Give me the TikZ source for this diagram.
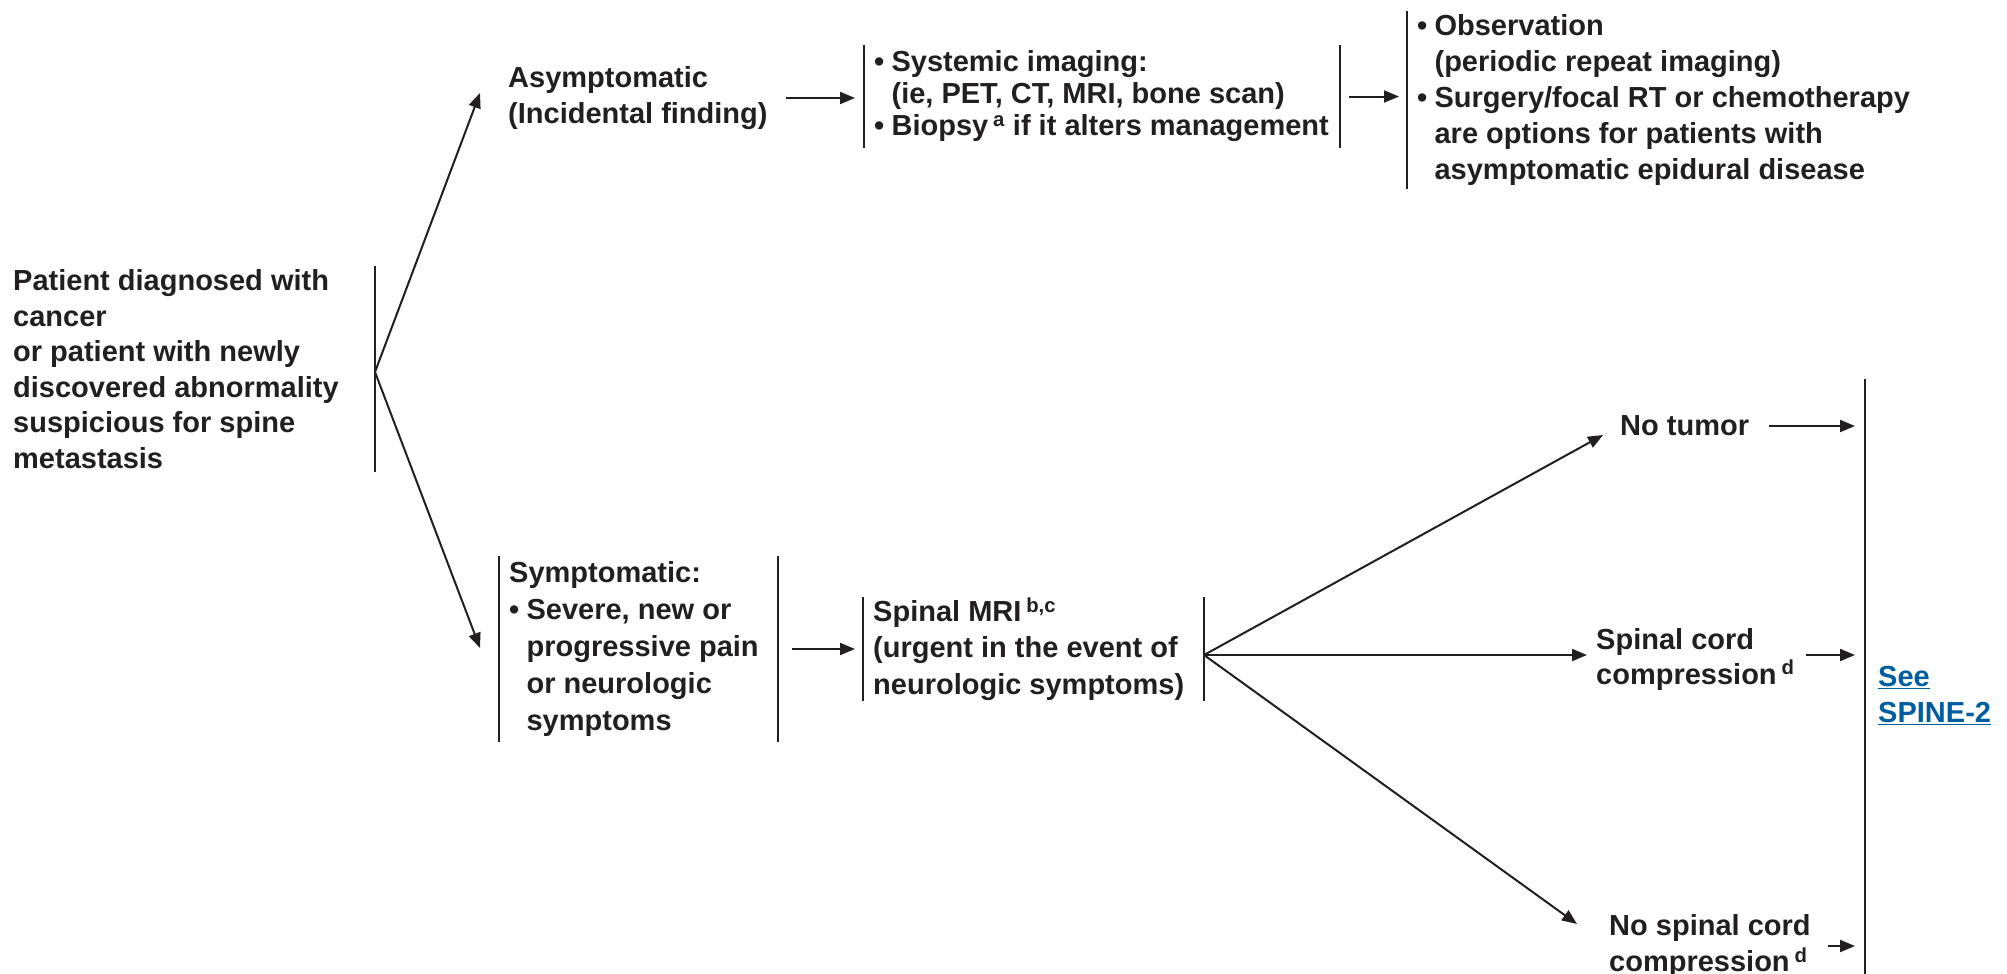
\documentclass[tikz,border=0pt]{standalone}
\usepackage{fontspec}
\setmainfont{Liberation Sans}
\usepackage{tikz}
\usetikzlibrary{arrows.meta}

\definecolor{ink}{HTML}{231F20}
\definecolor{linkblue}{RGB}{0,94,160}
\newcommand{\bul}{\makebox[0.6em][l]{\textbullet}}
\newcommand{\indt}{\hspace*{0.6em}}
\newcommand{\fnote}[1]{\,\textsuperscript{#1}}

\begin{document}
\begin{tikzpicture}[x=1pt,y=-1pt,
    txt/.style={font=\fontsize{29}{#1}\selectfont\bfseries,text=ink,align=left,inner sep=0pt,anchor=west},
    txt/.default=35.5,
    box/.style={txt=#1,inner xsep=10pt},
    box/.default=35.5,
    bar/.style={draw=ink,line width=2.6pt},
    arr/.style={draw=ink,line width=2pt,-{Triangle[length=15pt,width=12pt]}}]

    \useasboundingbox (0,0) rectangle (2007,974);

    \node[txt,minimum height=205pt] (pat) at (13,369) {Patient diagnosed with\\cancer\\or patient with newly\\discovered abnormality\\suspicious for spine\\metastasis};
    \coordinate (pfork) at (375,372);
    \draw[bar] (pat.north -| pfork) -- (pat.south -| pfork);

    \node[txt] (asym) at (508,98) {Asymptomatic\\(Incidental finding)};

    \node[box=32,minimum height=103pt] (sys) at (864,96.5) {\bul Systemic imaging:\\\indt(ie, PET, CT, MRI, bone scan)\\\bul Biopsy\fnote{a} if it alters management};
    \coordinate (sysR) at (1340,96.5);
    \draw[bar] (sys.north west) -- (sys.south west);
    \draw[bar] (sys.north -| sysR) -- (sys.south -| sysR);

    \node[box=36.2,minimum height=177pt] (obs) at (1407,100) {\bul Observation\\\indt(periodic repeat imaging)\\\bul Surgery/focal RT or chemotherapy\\\indt are options for patients with\\\indt asymptomatic epidural disease};
    \draw[bar] (obs.north west) -- (obs.south west);

    \node[box=37,minimum height=185pt] (sym) at (499,649) {Symptomatic:\\\bul Severe, new or\\\indt progressive pain\\\indt or neurologic\\\indt symptoms};
    \coordinate (symR) at (778,649);
    \draw[bar] (sym.north west) -- (sym.south west);
    \draw[bar] (sym.north -| symR) -- (sym.south -| symR);

    \node[box=36.5,minimum height=104pt] (mri) at (863,649) {Spinal MRI\fnote{b,c}\\(urgent in the event of\\neurologic symptoms)};
    \coordinate (mfork) at (1204,655);
    \draw[bar] (mri.north west) -- (mri.south west);
    \draw[bar] (mri.north -| mfork) -- (mri.south -| mfork);

    \node[txt] (notum) at (1620,426) {No tumor};
    \node[txt=35] (scc) at (1596,659) {Spinal cord\\compression\fnote{d}};
    \node[txt=36.5] (nscc) at (1609,946) {No spinal cord\\compression\fnote{d}};

    \coordinate (rtop) at (1865,379);
    \coordinate (rbot) at (1865,974);
    \draw[bar] (rtop) -- (rbot);
    \node[txt=36,text=linkblue] (see) at (1878,696) {\underline{See}\\\underline{SPINE-2}};

    \draw[arr] (pfork) -- ([xshift=-28pt,yshift=5pt]asym.west);
    \draw[arr] (pfork) -- ([xshift=-19pt,yshift=1pt]sym.west);
    \draw[arr,shorten <=18pt,shorten >=9pt] (asym.east) -- (asym.east -| sys.west);
    \draw[arr,shorten <=9pt,shorten >=8pt] (sysR) -- (sysR -| obs.west);
    \draw[arr,shorten <=14pt,shorten >=8pt] (symR) -- (symR -| mri.west);
    \draw[arr] (mfork) -- ([xshift=-17pt,yshift=-9pt]notum.west);
    \draw[arr,shorten >=9pt] (mfork) -- (mfork -| scc.west);
    \draw[arr] (mfork) -- ([xshift=-32pt,yshift=22pt]nscc.west);
    \draw[arr,shorten <=20pt,shorten >=10pt] (notum.east) -- (notum.east -| rtop);
    \draw[arr,shorten <=11pt,shorten >=10pt] (scc.east |- mfork) -- (mfork -| rtop);
    \draw[arr,shorten <=17pt,shorten >=10pt] (nscc.east) -- (nscc.east -| rtop);

\end{tikzpicture}
\end{document}
